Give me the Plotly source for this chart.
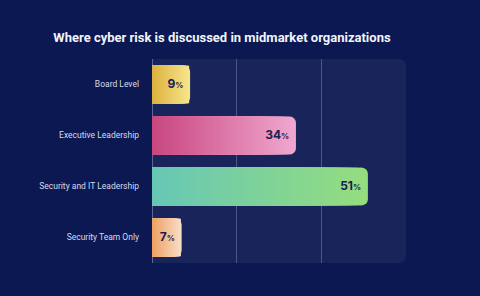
import plotly.graph_objects as go

categories = ["Board Level", "Executive Leadership", "Security and IT Leadership", "Security Team Only"]
values = [9, 34, 51, 7]
left_colors = ["#dcb13e", "#c8467f", "#66c7b5", "#eea061"]
right_colors = ["#f7e68e", "#f0a8cf", "#95dd7e", "#f8dfca"]
title_text = "Where cyber risk is discussed in midmarket organizations"

BG = "#0b1852"
PANEL = "#18245a"
N = 40


def hex2rgb(h):
    h = h.lstrip("#")
    return tuple(int(h[i:i + 2], 16) for i in (0, 2, 4))


def mix(c1, c2, t):
    a, b = hex2rgb(c1), hex2rgb(c2)
    return "rgb(%d,%d,%d)" % tuple(round(a[i] + (b[i] - a[i]) * t) for i in range(3))


fig = go.Figure()

# gradient bars: overlaid, longest (right-end colour) first, shorter ones on top
for k in range(N):
    frac = (N - k) / N
    t = (N - k - 0.5) / N
    fig.add_trace(go.Bar(
        y=categories,
        x=[v * frac for v in values],
        orientation="h",
        width=0.74,
        marker=dict(
            color=[mix(l, r, min(1, t)) for l, r in zip(left_colors, right_colors)],
            line=dict(width=0),
            cornerradius=6 if k == 0 else 0,
        ),
        hoverinfo="skip",
        showlegend=False,
    ))

labels = ["<b>%d<span style='font-size:8px'>%%</span></b>  " % v for v in values]
fig.add_trace(go.Scatter(
    y=categories,
    x=values,
    mode="text",
    text=labels,
    textposition="middle left",
    textfont=dict(family="Inter, Roboto, sans-serif", size=12, color="#1c2152"),
    hoverinfo="skip",
    showlegend=False,
))

# rounded panel (right corners rounded)
fig.add_shape(
    type="path", xref="paper", yref="paper", layer="below",
    path="M 0 0 L 0.97 0 Q 1 0 1 0.04 L 1 0.96 Q 1 1 0.97 1 L 0 1 Z",
    fillcolor=PANEL, line=dict(width=0),
)

fig.update_layout(
    width=480, height=296,
    paper_bgcolor=BG, plot_bgcolor="rgba(0,0,0,0)",
    barmode="overlay",
    margin=dict(l=152, r=74, t=59, b=33),
    title=dict(
        text="<b>" + title_text + "</b>",
        x=0.4625, xanchor="center", y=0.872, yanchor="middle",
        font=dict(family="Roboto, Inter, sans-serif", size=13, color="#f2f4fa"),
    ),
    xaxis=dict(
        range=[0, 60], tickvals=[20, 40], showticklabels=False,
        showgrid=True, gridcolor="rgba(120,130,175,0.55)", gridwidth=1,
        zeroline=True, zerolinecolor="rgba(120,130,175,0.7)", zerolinewidth=1,
        showline=False, fixedrange=True,
    ),
    yaxis=dict(
        categoryorder="array", categoryarray=categories[::-1],
        showgrid=False, ticks="", ticklabelstandoff=12,
        tickfont=dict(family="Roboto, Inter, sans-serif", size=8.5, color="#d6dbec"),
        fixedrange=True,
    ),
    bargap=0.26,
)

fig.write_html("out.html")
